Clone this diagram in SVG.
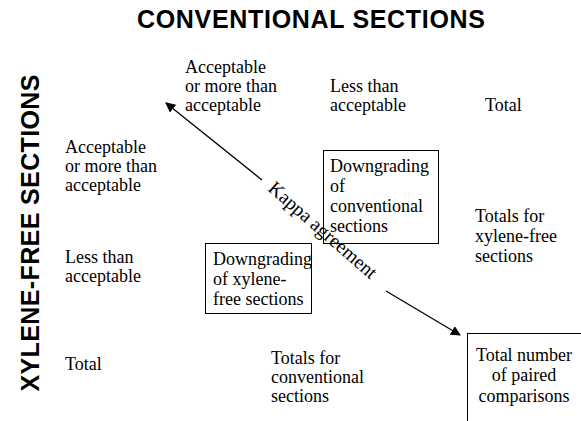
<svg xmlns="http://www.w3.org/2000/svg" width="581" height="421" viewBox="0 0 581 421">
<style>
.t{font-family:"Liberation Serif","Times New Roman",serif;font-size:18px;fill:#000}
.k{font-family:"Liberation Serif","Times New Roman",serif;font-size:19.5px;fill:#000}
.h{font-family:"Liberation Sans",Arial,sans-serif;font-size:25px;font-weight:bold;fill:#000}
.box{fill:none;stroke:#000;stroke-width:1}
.ln{stroke:#000;stroke-width:1.3;fill:none}
</style>
<defs>
<marker id="ah" viewBox="0 0 10 10" refX="9" refY="5" markerWidth="10" markerHeight="10" markerUnits="userSpaceOnUse" orient="auto">
<path d="M0,0 L10,5 L0,10 z" fill="#000"/>
</marker>
</defs>
<rect width="581" height="421" fill="#fff"/>
<g id="title"><text class="h" x="311" y="28" text-anchor="middle" textLength="348">CONVENTIONAL SECTIONS</text></g>
<g id="side-title"><text class="h" transform="translate(39,233) rotate(-90)" text-anchor="middle" textLength="317">XYLENE-FREE SECTIONS</text></g>
<g id="col-acceptable"><text class="t" x="185" y="73">Acceptable</text><text class="t" x="185" y="92">or more than</text><text class="t" x="185" y="111">acceptable</text></g>
<g id="col-less"><text class="t" x="330" y="92">Less than</text><text class="t" x="330" y="111">acceptable</text></g>
<g id="col-total"><text class="t" x="485" y="111">Total</text></g>
<g id="row-acceptable"><text class="t" x="65" y="153">Acceptable</text><text class="t" x="65" y="172">or more than</text><text class="t" x="65" y="191">acceptable</text></g>
<g id="row-less"><text class="t" x="65" y="263">Less than</text><text class="t" x="65" y="282">acceptable</text></g>
<g id="row-total"><text class="t" x="65" y="370">Total</text></g>
<g id="downgrade-conv"><rect class="box" x="323.5" y="150.5" width="115" height="93"/><text class="t" x="330" y="172">Downgrading</text><text class="t" x="330" y="192">of</text><text class="t" x="330" y="212">conventional</text><text class="t" x="330" y="232">sections</text></g>
<g id="downgrade-xyl"><rect class="box" x="205.5" y="243.5" width="106" height="70"/><text class="t" x="213" y="265">Downgrading</text><text class="t" x="213" y="285">of xylene-</text><text class="t" x="213" y="305">free sections</text></g>
<g id="totals-xyl"><text class="t" x="475" y="222">Totals for</text><text class="t" x="475" y="242">xylene-free</text><text class="t" x="475" y="262">sections</text></g>
<g id="totals-conv"><text class="t" x="271" y="364">Totals for</text><text class="t" x="271" y="383">conventional</text><text class="t" x="271" y="402">sections</text></g>
<g id="total-paired"><rect class="box" x="467.5" y="333.5" width="130" height="100"/><text class="t" x="524" y="361" text-anchor="middle">Total number</text><text class="t" x="524" y="381" text-anchor="middle">of paired</text><text class="t" x="524" y="402" text-anchor="middle">comparisons</text></g>
<g id="connectors">
<line class="ln" x1="262" y1="180" x2="166" y2="103" marker-end="url(#ah)"/>
<line class="ln" x1="386" y1="291" x2="460" y2="335" marker-end="url(#ah)"/>
<text class="k" transform="translate(267,190) rotate(41)">Kappa agreement</text>
</g>
</svg>
